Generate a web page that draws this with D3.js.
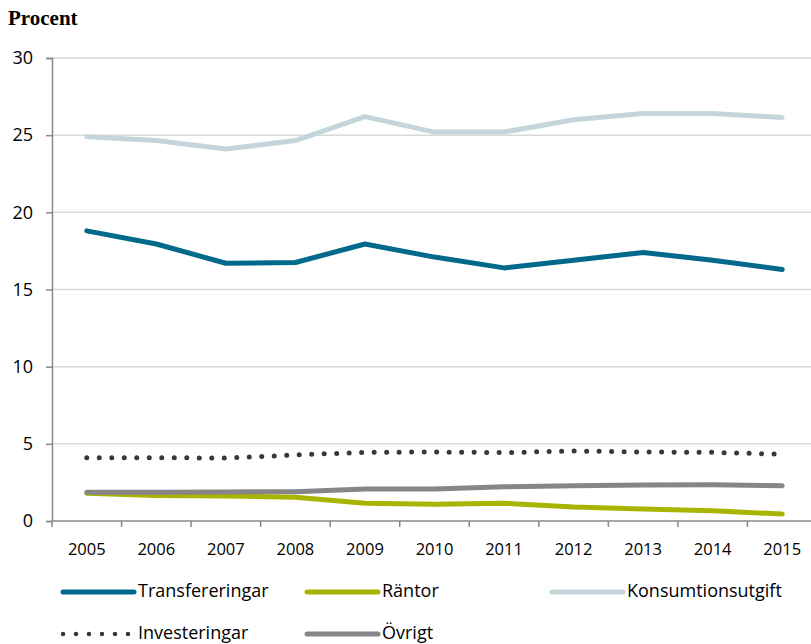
<!DOCTYPE html>
<html>
<head>
<meta charset="utf-8">
<script src="https://cdn.jsdelivr.net/npm/d3@7/dist/d3.min.js"></script>
<style>
  html, body { margin: 0; padding: 0; background: #fff; overflow: hidden; }
  svg { display: block; }
</style>
</head>
<body>
<div id="chart"></div>
<script>
const years = ['2005', '2006', '2007', '2008', '2009', '2010', '2011', '2012', '2013', '2014', '2015'];

const transfereringar = [18.8, 17.95, 16.7, 16.75, 17.95, 17.1, 16.4, 16.9, 17.4, 16.9, 16.3];
const rantor = [1.8, 1.65, 1.62, 1.54, 1.15, 1.08, 1.15, 0.9, 0.77, 0.67, 0.45];
const konsumtion = [24.9, 24.65, 24.1, 24.65, 26.2, 25.2, 25.2, 26.0, 26.4, 26.4, 26.15];
const investeringar = [4.1, 4.1, 4.08, 4.28, 4.45, 4.47, 4.43, 4.54, 4.47, 4.45, 4.32];
const ovrigt = [1.86, 1.87, 1.88, 1.9, 2.07, 2.07, 2.22, 2.29, 2.33, 2.35, 2.29];

const yTicks = [0, 5, 10, 15, 20, 25, 30];

const series = [
  { name: 'Transfereringar', values: transfereringar, color: '#00698c', dots: false },
  { name: 'Räntor', values: rantor, color: '#a8b400', dots: false },
  { name: 'Konsumtionsutgift', values: konsumtion, color: '#c4d6dc', dots: false },
  { name: 'Investeringar', values: investeringar, color: '#383838', dots: true },
  { name: 'Övrigt', values: ovrigt, color: '#868686', dots: false },
];

const width = 811;
const height = 644;
const margin = { top: 58, right: -6, bottom: 123, left: 52 };
const font = '"Open Sans", sans-serif';

const svg = d3.select('#chart')
  .append('svg')
  .attr('width', width)
  .attr('height', height);

const x = d3.scaleBand()
  .domain(years)
  .range([margin.left, width - margin.right]);

const y = d3.scaleLinear()
  .domain([0, 30])
  .range([height - margin.bottom, margin.top]);

// Gridlines
svg.append('g')
  .selectAll('line')
  .data(yTicks.filter(d => d > 0))
  .join('line')
  .attr('x1', margin.left)
  .attr('x2', width)
  .attr('y1', d => y(d))
  .attr('y2', d => y(d))
  .attr('stroke', '#d9d9d9')
  .attr('stroke-width', 1.5);

// Y axis
const yAxis = svg.append('g')
  .attr('transform', `translate(${margin.left},0)`)
  .call(d3.axisLeft(y).tickValues(yTicks).tickSize(6).tickPadding(13));
yAxis.select('.domain').attr('stroke', '#888').attr('stroke-width', 1.5);
yAxis.selectAll('.tick line').attr('stroke', '#888').attr('stroke-width', 1.5);
yAxis.selectAll('text')
  .attr('fill', '#000')
  .attr('font-family', font)
  .attr('font-size', '18px');

// X axis with ticks at band edges
const xAxis = svg.append('g')
  .attr('transform', `translate(0,${y(0)})`);
xAxis.append('line')
  .attr('x1', margin.left)
  .attr('x2', width)
  .attr('stroke', '#888')
  .attr('stroke-width', 1.5);
xAxis.selectAll('.edge')
  .data(years)
  .join('line')
  .attr('x1', d => x(d))
  .attr('x2', d => x(d))
  .attr('y1', 0)
  .attr('y2', 6)
  .attr('stroke', '#888')
  .attr('stroke-width', 1.5);
xAxis.selectAll('text')
  .data(years)
  .join('text')
  .attr('x', d => x(d) + x.bandwidth() / 2)
  .attr('y', 30)
  .attr('text-anchor', 'middle')
  .attr('dominant-baseline', 'middle')
  .attr('font-family', font)
  .attr('font-size', '16.5px')
  .attr('fill', '#000')
  .text(d => d);

// Lines
const line = d3.line()
  .x((d, i) => x(years[i]) + x.bandwidth() / 2)
  .y(d => y(d));

const drawOrder = [2, 0, 3, 1, 4];
svg.append('g')
  .selectAll('path')
  .data(drawOrder.map(i => series[i]))
  .join('path')
  .attr('d', d => line(d.values))
  .attr('fill', 'none')
  .attr('stroke', d => d.color)
  .attr('stroke-width', 5)
  .attr('stroke-linecap', 'round')
  .attr('stroke-linejoin', 'round')
  .attr('stroke-dasharray', d => d.dots ? '0,12.5' : null);

// Title
svg.append('text')
  .attr('x', 8)
  .attr('y', 25)
  .attr('font-family', '"Liberation Serif", "Times New Roman", serif')
  .attr('font-weight', 'bold')
  .attr('font-size', '21px')
  .attr('fill', '#000')
  .text('Procent');

// Legend
const legendPos = [
  { x: 63, y: 592 },
  { x: 307, y: 592 },
  { x: 552, y: 592 },
  { x: 63, y: 634 },
  { x: 307, y: 634 },
];
const legend = svg.append('g')
  .selectAll('g')
  .data(series)
  .join('g')
  .attr('transform', (d, i) => `translate(${legendPos[i].x},${legendPos[i].y})`);
legend.append('line')
  .attr('x1', 0)
  .attr('x2', d => d.dots ? 66 : 71)
  .attr('stroke', d => d.color)
  .attr('stroke-width', d => d.dots ? 4.5 : 5)
  .attr('stroke-linecap', 'round')
  .attr('stroke-dasharray', d => d.dots ? '0,13' : null);
legend.append('text')
  .attr('x', 75)
  .attr('dominant-baseline', 'middle')
  .attr('font-family', font)
  .attr('font-size', '18px')
  .attr('fill', '#000')
  .text(d => d.name);
</script>
</body>
</html>
